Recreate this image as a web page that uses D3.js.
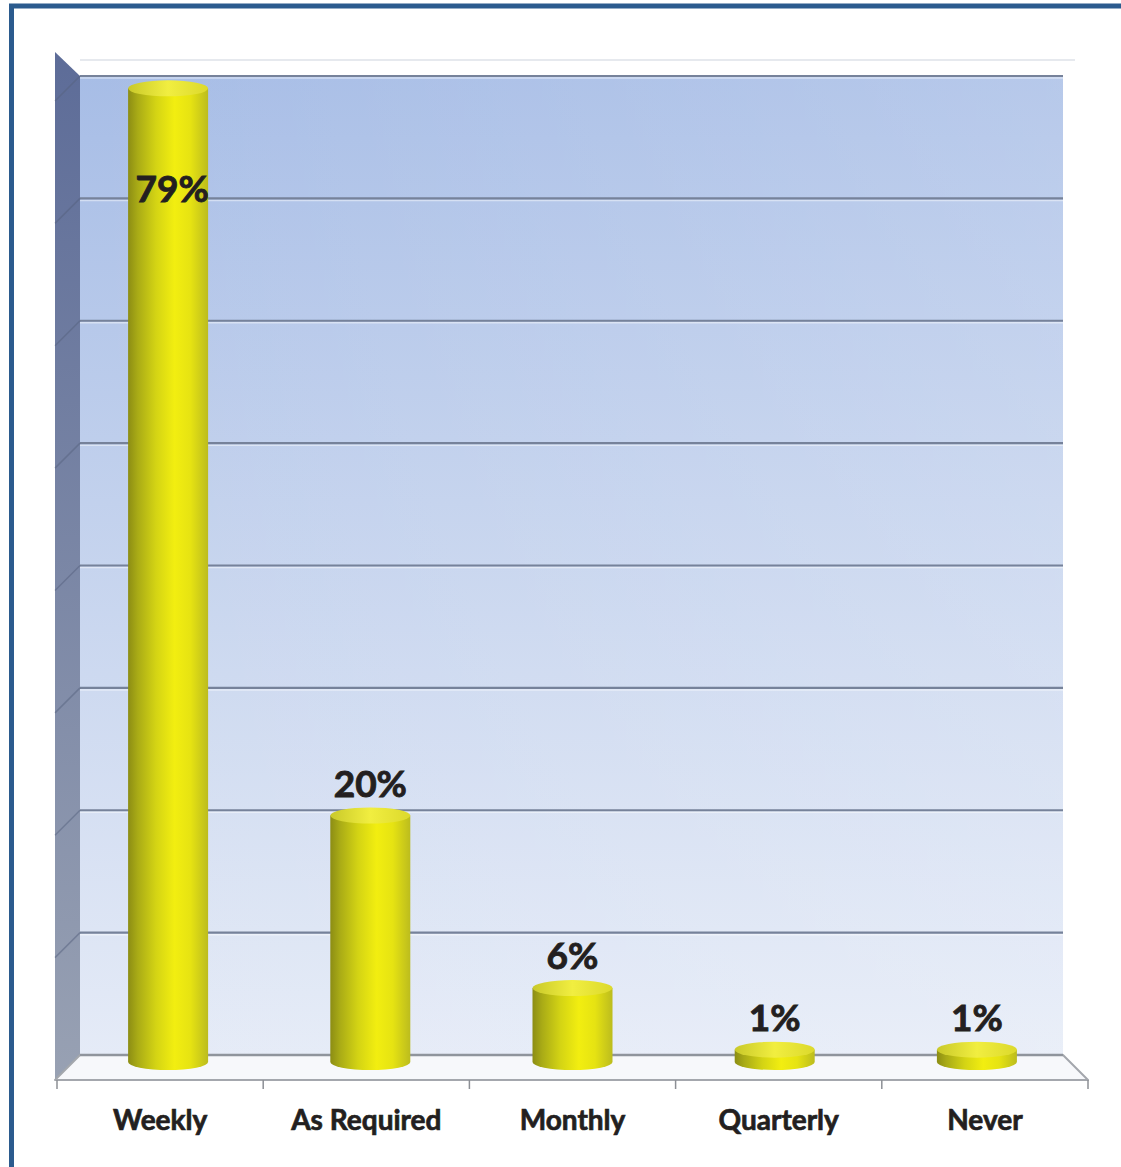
<!DOCTYPE html>
<html><head><meta charset="utf-8">
<script src="https://cdn.jsdelivr.net/npm/d3@7"></script>
<style>html,body{margin:0;padding:0;background:#fff;}svg{display:block;}</style>
</head><body>
<script>
const categories = ["Weekly", "As Required", "Monthly", "Quarterly", "Never"];
const values = [79, 20, 6, 1, 1];
const valueLabels = ["79%", "20%", "6%", "1%", "1%"];
const gridValues = [0, 10, 20, 30, 40, 50, 60, 70, 80];

const W = 1121, H = 1167;
const svg = d3.select("body").append("svg").attr("width", W).attr("height", H);
const defs = svg.append("defs");

// geometry
const backL = 80, backR = 1063, backTop = 76, backBottom = 1055;
const depth = 25;
const frontL = backL - depth, frontR = backR + depth, frontBottom = backBottom + depth;
const barBase = 1062;

const yWall = d3.scaleLinear().domain([0, 80]).range([backBottom, backTop]);
const yBar = d3.scaleLinear().domain([0, 80]).range([barBase, backTop]);
const xFront = d3.scaleBand().domain(categories).range([57, 1088]);
const xMid = d3.scaleBand().domain(categories).range([67, 1078]);

// gradients
const gBack = defs.append("linearGradient").attr("id", "gBack").attr("x1", 0).attr("y1", 0).attr("x2", 0).attr("y2", 1);
gBack.append("stop").attr("offset", "0%").attr("stop-color", "#a7bde6");
gBack.append("stop").attr("offset", "50%").attr("stop-color", "#c6d4ee");
gBack.append("stop").attr("offset", "100%").attr("stop-color", "#e5ebf7");
const gBackH = defs.append("linearGradient").attr("id", "gBackH").attr("x1", 0).attr("y1", 0).attr("x2", 1).attr("y2", 0);
gBackH.append("stop").attr("offset", "0%").attr("stop-color", "#ffffff").attr("stop-opacity", 0);
gBackH.append("stop").attr("offset", "100%").attr("stop-color", "#ffffff").attr("stop-opacity", 0.18);
const gLeft = defs.append("linearGradient").attr("id", "gLeft").attr("x1", 0).attr("y1", 0).attr("x2", 0).attr("y2", 1);
gLeft.append("stop").attr("offset", "0%").attr("stop-color", "#5d6c98");
gLeft.append("stop").attr("offset", "100%").attr("stop-color", "#98a1b3");
const gCyl = defs.append("linearGradient").attr("id", "gCyl").attr("x1", 0).attr("y1", 0).attr("x2", 1).attr("y2", 0);
[["0%", "#8c8d14"], ["12%", "#a9ab16"], ["35%", "#d4d414"], ["58%", "#f2ee10"], ["78%", "#e6e312"], ["100%", "#bcbc1e"]]
  .forEach(([o, c]) => gCyl.append("stop").attr("offset", o).attr("stop-color", c));
const gTop = defs.append("linearGradient").attr("id", "gTop").attr("x1", 0).attr("y1", 0).attr("x2", 1).attr("y2", 0);
[["0%", "#c9c92a"], ["50%", "#f1ee40"], ["100%", "#dcd92c"]]
  .forEach(([o, c]) => gTop.append("stop").attr("offset", o).attr("stop-color", c));

// outer frame
svg.append("rect").attr("x", 11.5).attr("y", 6).attr("width", 1140).attr("height", 1200)
  .attr("fill", "#fff").attr("stroke", "#2b5b8e").attr("stroke-width", 5);

// top faint strip
svg.append("line").attr("x1", backL).attr("x2", backR + 12).attr("y1", 60).attr("y2", 60)
  .attr("stroke", "#e6e9ee").attr("stroke-width", 2);

// back wall
svg.append("rect").attr("x", backL).attr("y", backTop).attr("width", backR - backL).attr("height", backBottom - backTop)
  .attr("fill", "url(#gBack)");
svg.append("rect").attr("x", backL).attr("y", backTop).attr("width", backR - backL).attr("height", backBottom - backTop)
  .attr("fill", "url(#gBackH)");

// left wall
svg.append("polygon")
  .attr("points", [[frontL, backTop - depth + 1], [backL, backTop], [backL, backBottom], [frontL, frontBottom]].map(p => p.join(",")).join(" "))
  .attr("fill", "url(#gLeft)");

// gridlines
const grid = svg.append("g");
gridValues.filter(v => v > 0).forEach(v => {
  const y = yWall(v);
  grid.append("line").attr("x1", backL).attr("x2", backR).attr("y1", y + 2).attr("y2", y + 2)
    .attr("stroke", "#ffffff").attr("stroke-opacity", 0.45).attr("stroke-width", 1.5);
  grid.append("line").attr("x1", backL).attr("x2", backR).attr("y1", y).attr("y2", y)
    .attr("stroke", "#76829a").attr("stroke-width", 2.2);
  grid.append("line").attr("x1", frontL).attr("x2", backL).attr("y1", y + depth).attr("y2", y)
    .attr("stroke", "#55627e").attr("stroke-opacity", 0.5).attr("stroke-width", 1.5);
});

// floor
svg.append("polygon")
  .attr("points", [[backL, backBottom], [backR, backBottom], [frontR, frontBottom], [frontL, frontBottom]].map(p => p.join(",")).join(" "))
  .attr("fill", "#f7f8fb").attr("stroke", "#a4a7ad").attr("stroke-width", 2).attr("stroke-linejoin", "round");
svg.append("line").attr("x1", backL).attr("x2", backR).attr("y1", backBottom).attr("y2", backBottom)
  .attr("stroke", "#8f949c").attr("stroke-width", 2.5);

// ticks
const tickX = categories.map(c => xFront(c)).concat([xFront.range()[1]]);
svg.append("g").selectAll("line").data(tickX).join("line")
  .attr("x1", d => d).attr("x2", d => d).attr("y1", frontBottom).attr("y2", frontBottom + 9)
  .attr("stroke", "#8c8f95").attr("stroke-width", 1.5);

// cylinders
const rx = 40, ry = 8;
const bars = svg.append("g").selectAll("g").data(categories.map((c, i) => ({ c, v: values[i], lbl: valueLabels[i] }))).join("g");
bars.append("path")
  .attr("d", d => {
    const cx = xMid(d.c) + xMid.bandwidth() / 2, yt = yBar(d.v);
    return `M${cx - rx},${yt} L${cx - rx},${barBase} A${rx},${ry} 0 0 0 ${cx + rx},${barBase} L${cx + rx},${yt} Z`;
  })
  .attr("fill", "url(#gCyl)");
bars.append("ellipse")
  .attr("cx", d => xMid(d.c) + xMid.bandwidth() / 2).attr("cy", d => yBar(d.v))
  .attr("rx", rx).attr("ry", ry).attr("fill", "url(#gTop)");

// value labels
bars.append("text")
  .attr("x", d => xMid(d.c) + xMid.bandwidth() / 2 + (d.v > 70 ? 4 : 0))
  .attr("y", d => d.v > 70 ? yBar(d.v) + 114 : yBar(d.v) - ry - 11)
  .attr("text-anchor", "middle")
  .attr("font-family", "Lato, 'Open Sans', sans-serif").attr("font-weight", "bold").attr("font-size", 37)
  .attr("fill", "#231f20").attr("stroke", "#231f20").attr("stroke-width", 0.9)
  .text(d => d.lbl);

// category labels
svg.append("g").selectAll("text").data(categories).join("text")
  .attr("x", d => xFront(d) + xFront.bandwidth() / 2)
  .attr("y", 1130)
  .attr("text-anchor", "middle")
  .attr("font-family", "Lato, 'Open Sans', sans-serif").attr("font-weight", "bold").attr("font-size", 28)
  .attr("fill", "#231f20").attr("stroke", "#231f20").attr("stroke-width", 0.7)
  .text(d => d);
</script>
</body></html>
